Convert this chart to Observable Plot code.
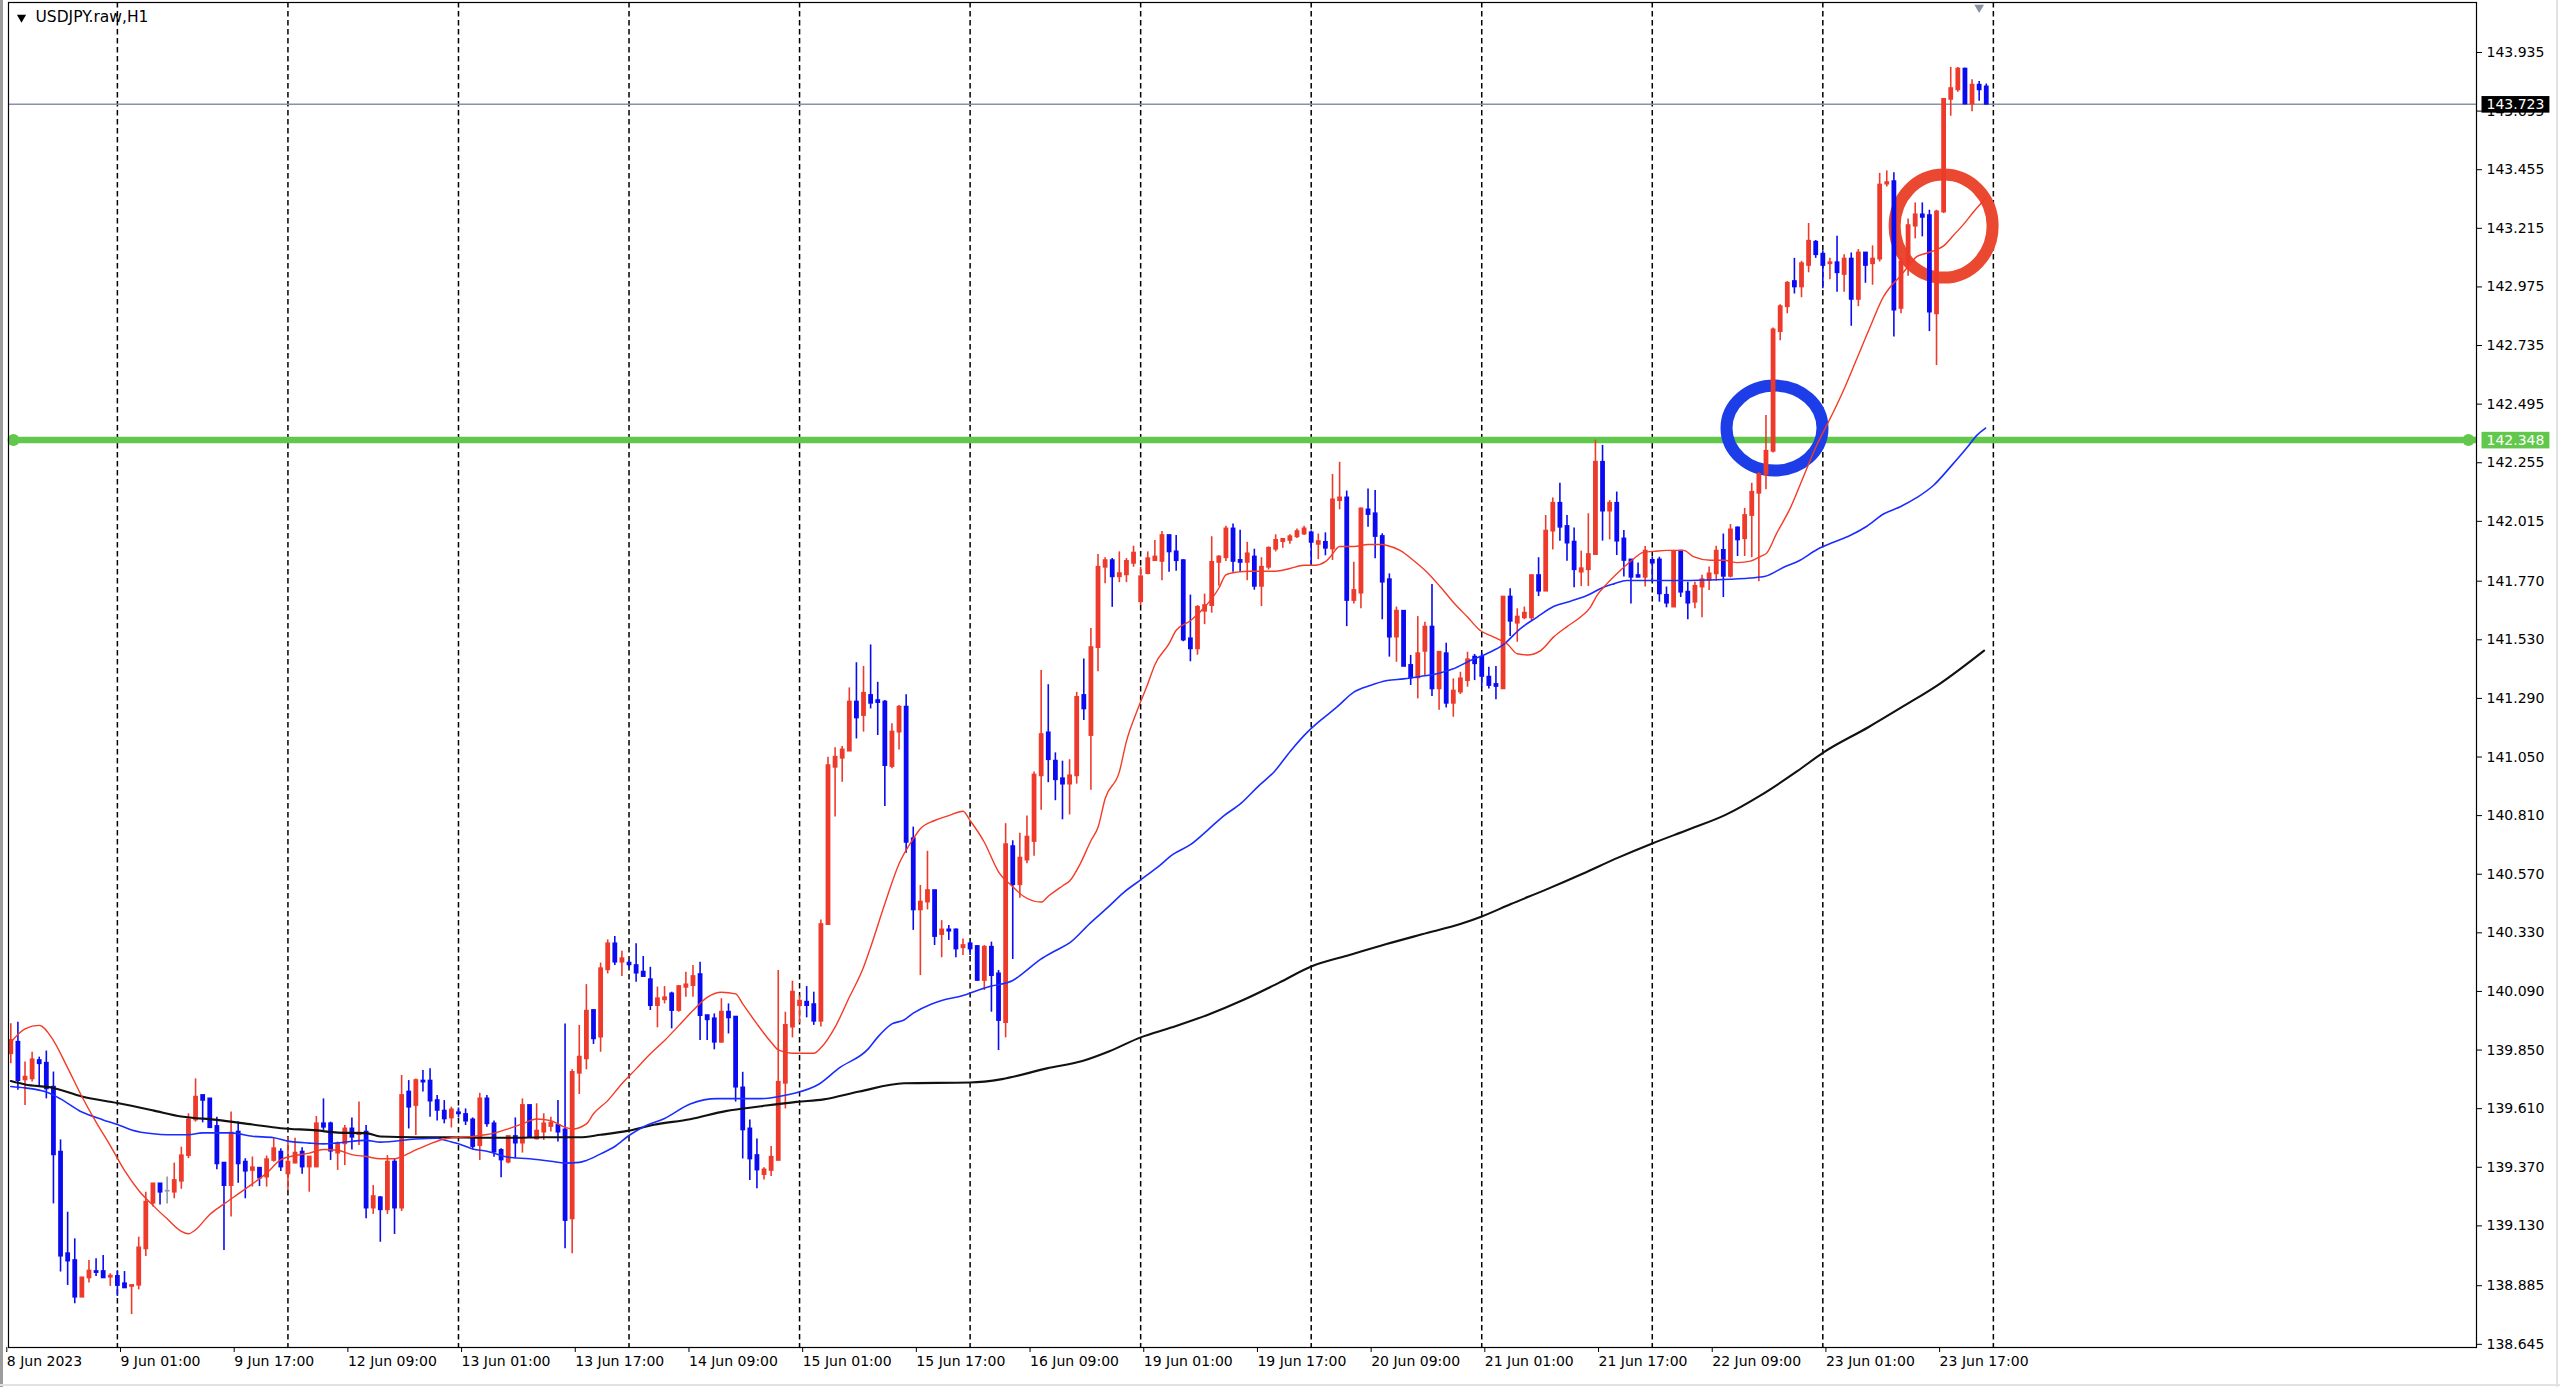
<!DOCTYPE html>
<html><head><meta charset="utf-8">
<script src="https://cdn.jsdelivr.net/npm/d3@7"></script>
<script src="https://cdn.jsdelivr.net/npm/@observablehq/plot@0.6"></script>
<style>
html,body{margin:0;padding:0;background:#fff;}
#wrap{position:relative;width:2560px;height:1387px;overflow:hidden;background:#fff;}
#chart svg{display:block;}
#lb{position:absolute;left:0;top:0;width:3px;height:1387px;background:#9c9c9c;}
#rb{position:absolute;left:2556px;top:0;width:2px;height:1387px;background:#e2e2e2;}
#bb{position:absolute;left:0;top:1384px;width:2560px;height:2px;background:#e2e2e2;}
</style></head>
<body><div id="wrap"><div id="chart"></div><div id="lb"></div><div id="rb"></div><div id="bb"></div></div>
<script>
// ---- data (hourly bars, USDJPY.raw H1, starting 8 Jun 2023 09:00) ----
const symbolTitle = "USDJPY.raw,H1";
const open = [139.835,139.882,139.728,139.732,139.807,139.796,139.698,139.432,139.016,138.988,
138.838,138.917,138.943,138.943,138.920,138.923,138.893,138.882,138.887,139.036,
139.223,139.302,139.272,139.268,139.313,139.418,139.564,139.664,139.650,139.537,
139.387,139.295,139.514,139.391,139.357,139.366,139.330,139.398,139.432,139.343,
139.387,139.432,139.371,139.371,139.548,139.548,139.428,139.466,139.527,139.504,
139.514,139.203,139.245,139.196,139.391,139.203,139.678,139.623,139.723,139.723,
139.643,139.600,139.572,139.593,139.586,139.564,139.459,139.650,139.548,139.439,
139.391,139.496,139.469,139.623,139.486,139.514,139.537,139.541,139.523,139.159,
139.755,139.814,140.012,139.903,140.179,140.285,140.210,140.206,140.196,140.169,
140.138,140.032,140.056,140.080,140.012,140.107,140.114,140.159,139.991,139.978,
139.882,140.005,139.985,139.695,139.527,139.418,139.340,139.357,139.398,139.714,
139.944,140.032,140.046,140.036,139.968,140.364,141.008,141.045,141.074,141.275,
141.220,141.302,141.281,141.275,141.011,141.152,141.254,140.715,140.424,140.456,
140.503,140.323,140.342,140.342,140.269,140.285,140.274,140.135,140.271,140.162,
139.962,140.683,140.527,140.628,140.704,140.973,141.149,141.033,140.961,140.939,
140.973,141.302,141.138,141.498,141.827,141.854,141.788,141.796,141.843,141.686,
141.801,141.854,141.851,141.957,141.890,141.854,141.534,141.493,141.647,141.670,
141.847,141.866,141.984,141.855,141.847,141.869,141.749,141.827,141.901,141.932,
141.937,141.952,141.963,141.968,141.921,141.929,141.902,142.100,142.111,141.691,
141.721,142.062,142.046,141.953,141.776,141.541,141.647,141.425,141.374,141.483,
141.582,141.329,141.473,141.270,141.316,141.363,141.459,141.459,141.377,141.347,
141.329,141.705,141.598,141.620,141.620,141.793,141.729,141.975,142.089,141.994,
141.930,141.807,141.817,141.879,142.257,142.057,142.089,141.943,141.857,141.793,
141.786,141.855,141.857,141.712,141.664,141.893,141.725,141.684,141.746,141.773,
141.800,141.896,141.790,141.988,141.944,142.039,142.130,142.207,142.302,142.792,
142.894,142.997,142.975,143.063,143.158,143.109,143.070,143.074,143.026,143.089,
142.924,143.114,143.070,143.089,143.396,143.406,142.887,143.066,143.224,143.270,
143.267,142.865,143.282,143.743,143.782,143.867,143.724,143.801,143.794];
const high = [139.958,139.964,139.801,139.841,139.821,139.846,139.760,139.482,139.186,139.077,
138.920,138.988,138.995,139.009,138.934,138.947,138.943,138.886,139.084,139.268,
139.302,139.302,139.330,139.387,139.452,139.589,139.732,139.664,139.650,139.575,
139.387,139.596,139.555,139.405,139.412,139.366,139.416,139.487,139.446,139.493,
139.489,139.450,139.412,139.578,139.650,139.555,139.473,139.541,139.572,139.637,
139.541,139.295,139.250,139.418,139.405,139.746,139.725,139.732,139.766,139.773,
139.664,139.643,139.616,139.613,139.609,139.572,139.673,139.664,139.559,139.446,
139.496,139.572,139.650,139.623,139.630,139.589,139.575,139.643,139.957,139.769,
139.951,140.118,140.015,140.206,140.301,140.315,140.255,140.217,140.285,140.233,
140.189,140.108,140.110,140.087,140.114,140.169,140.196,140.210,139.991,139.998,
140.060,140.039,139.985,139.759,139.564,139.486,139.368,139.455,140.176,140.005,
140.132,140.073,140.110,140.087,140.383,141.049,141.088,141.093,141.333,141.436,
141.421,141.509,141.356,141.281,141.186,141.261,141.305,140.763,140.524,140.664,
140.503,140.380,140.360,140.346,140.305,140.292,140.278,140.278,140.292,140.176,
140.777,140.707,140.738,140.808,140.989,141.404,141.346,141.067,141.033,141.039,
141.315,141.451,141.576,141.879,141.866,141.863,141.890,141.863,141.913,141.827,
141.890,141.937,141.973,141.957,141.957,141.858,141.713,141.670,141.717,141.952,
141.874,141.995,142.004,141.979,141.929,141.901,141.866,141.910,141.960,141.945,
141.960,141.984,141.995,141.976,141.963,141.968,142.207,142.257,142.139,141.848,
142.070,142.148,142.141,141.964,141.800,141.664,141.647,141.466,141.625,141.602,
141.756,141.479,141.516,141.370,141.397,141.479,141.470,141.473,141.418,141.421,
141.705,141.739,141.657,141.664,141.793,141.866,142.039,142.111,142.171,142.039,
141.988,141.893,142.046,142.348,142.326,142.100,142.135,141.978,141.857,141.844,
141.912,141.868,141.868,141.746,141.896,141.896,141.766,141.766,141.794,141.828,
141.913,141.963,142.002,141.992,142.068,142.171,142.214,142.448,142.807,142.902,
142.997,143.092,143.080,143.235,143.165,143.121,143.092,143.183,143.107,143.114,
143.128,143.114,143.143,143.440,143.450,143.443,143.092,143.253,143.319,143.319,
143.289,143.289,143.747,143.874,143.874,143.870,143.823,143.816,143.806];
const low = [139.794,139.685,139.623,139.719,139.698,139.650,139.220,138.941,138.886,138.811,
138.838,138.896,138.923,138.917,138.882,138.841,138.875,138.767,138.868,139.005,
139.207,139.216,139.220,139.241,139.280,139.405,139.555,139.552,139.532,139.360,
139.029,139.166,139.305,139.241,139.289,139.291,139.289,139.391,139.353,139.275,
139.384,139.341,139.268,139.371,139.521,139.398,139.357,139.377,139.441,139.459,
139.159,139.177,139.063,139.177,139.095,139.189,139.527,139.500,139.678,139.575,
139.559,139.548,139.531,139.572,139.541,139.441,139.398,139.534,139.411,139.327,
139.384,139.405,139.428,139.493,139.482,139.480,139.514,139.473,139.036,139.016,
139.668,139.769,139.873,139.841,140.162,140.196,140.151,140.187,140.128,140.151,
140.012,139.941,140.039,139.937,140.005,140.066,140.066,139.889,139.889,139.851,
139.878,139.916,139.637,139.404,139.316,139.282,139.318,139.332,139.398,139.609,
139.900,139.960,139.982,139.951,139.944,140.360,140.804,140.947,141.074,141.124,
141.152,141.247,141.138,140.847,141.002,141.079,140.656,140.340,140.155,140.424,
140.278,140.228,140.299,140.228,140.237,140.237,140.132,140.094,140.005,139.848,
139.900,140.221,140.472,140.613,140.644,140.832,140.945,140.871,140.793,140.813,
140.939,141.200,140.914,141.399,141.760,141.663,141.764,141.764,141.827,141.670,
141.796,141.854,141.772,141.807,141.811,141.522,141.440,141.467,141.592,141.639,
141.749,141.851,141.807,141.807,141.772,141.733,141.666,141.816,141.890,141.905,
141.921,141.945,141.957,141.835,141.858,141.874,141.855,142.062,141.584,141.677,
141.657,141.991,141.862,141.612,141.459,141.438,141.421,141.343,141.288,141.384,
141.298,141.241,141.251,141.213,141.306,141.336,141.363,141.336,141.329,141.284,
141.329,141.543,141.520,141.612,141.609,141.707,141.729,141.898,141.934,141.852,
141.743,141.748,141.748,141.879,141.934,141.939,141.875,141.787,141.677,141.784,
141.746,141.766,141.684,141.661,141.664,141.703,141.612,141.657,141.620,141.732,
141.770,141.703,141.783,141.871,141.871,141.866,141.768,142.144,142.295,142.755,
142.865,142.946,142.931,143.033,143.092,142.968,143.004,142.953,142.953,142.814,
142.894,142.990,142.982,143.077,143.384,142.770,142.865,143.019,143.172,143.180,
142.792,142.653,143.275,143.674,143.772,143.721,143.692,143.735,143.721];
const close = [139.889,139.725,139.739,139.810,139.794,139.691,139.421,139.006,138.986,138.838,
138.917,138.945,138.939,138.917,138.924,138.886,138.876,138.886,139.040,139.227,
139.302,139.268,139.272,139.316,139.417,139.564,139.657,139.644,139.532,139.384,
139.295,139.510,139.384,139.354,139.368,139.326,139.401,139.446,139.371,139.391,
139.428,139.371,139.412,139.548,139.534,139.436,139.466,139.527,139.493,139.510,
139.203,139.250,139.196,139.391,139.203,139.664,139.616,139.725,139.719,139.641,
139.603,139.568,139.605,139.589,139.559,139.455,139.650,139.548,139.432,139.400,
139.496,139.469,139.623,139.493,139.518,139.548,139.551,139.514,139.152,139.759,
139.821,140.009,139.896,140.183,140.285,140.210,140.224,140.199,140.165,140.151,
140.032,140.060,140.064,140.012,140.110,140.117,140.151,139.991,139.974,139.882,
140.005,139.982,139.698,139.523,139.404,139.359,139.359,139.411,139.718,139.951,
140.087,140.050,140.032,139.968,140.364,141.015,141.049,141.079,141.275,141.210,
141.311,141.270,141.273,141.015,141.152,141.254,140.701,140.424,140.456,140.503,
140.315,140.342,140.337,140.264,140.278,140.264,140.135,140.271,140.155,139.971,
140.691,140.527,140.636,140.722,140.976,141.142,141.039,140.957,140.939,140.973,
141.294,141.247,141.498,141.827,141.854,141.788,141.801,141.851,141.885,141.788,
141.862,141.869,141.957,141.890,141.854,141.529,141.493,141.663,141.670,141.847,
141.869,141.984,141.851,141.847,141.882,141.749,141.827,141.905,141.937,141.941,
141.952,141.973,141.984,141.929,141.932,141.905,142.103,142.111,141.691,141.732,
142.066,142.043,141.953,141.766,141.541,141.647,141.421,141.374,141.473,141.582,
141.329,141.479,141.270,141.320,141.370,141.448,141.432,141.380,141.343,141.339,
141.705,141.606,141.623,141.639,141.793,141.729,141.975,142.089,141.991,141.926,
141.817,141.821,141.879,142.257,142.057,142.089,141.934,141.855,141.786,141.786,
141.893,141.844,141.718,141.680,141.889,141.725,141.680,141.749,141.776,141.800,
141.893,141.790,141.980,141.939,142.039,142.134,142.207,142.302,142.799,142.894,
142.990,142.975,143.070,143.162,143.107,143.063,143.074,143.033,143.089,142.924,
143.114,143.063,143.089,143.392,143.402,142.880,143.077,143.226,143.270,143.260,
142.872,143.282,143.743,143.787,143.867,143.724,143.801,143.782,143.723];

// moving averages: [bar index, price]
const maFast = [[0,139.882],[2,139.937],[4,139.951],[6,139.889],[8,139.777],[10,139.660],[12,139.555],[14,139.459],[16,139.357],[18,139.275],[20,139.214],[22,139.159],[24,139.108],[25,139.098],[26,139.114],[28,139.177],[30,139.220],[32,139.261],[34,139.302],[36,139.346],[38,139.401],[40,139.418],[42,139.428],[44,139.443],[46,139.440],[48,139.422],[50,139.414],[52,139.405],[54,139.405],[55,139.414],[57,139.441],[59,139.466],[61,139.486],[63,139.493],[65,139.496],[67,139.504],[68,139.510],[70,139.527],[72,139.548],[74,139.568],[76,139.561],[78,139.534],[79,139.527],[81,139.548],[82,139.589],[84,139.643],[86,139.712],[88,139.773],[90,139.835],[92,139.889],[94,139.950],[96,140.012],[98,140.066],[100,140.087],[102,140.080],[103,140.039],[105,139.957],[107,139.882],[108,139.851],[110,139.837],[113,139.837],[114,139.859],[116,139.944],[118,140.066],[120,140.189],[121,140.271],[123,140.449],[125,140.613],[127,140.715],[128,140.756],[130,140.790],[132,140.810],[134,140.828],[135,140.790],[137,140.701],[139,140.580],[141,140.519],[142.5,140.480],[145,140.456],[146,140.480],[148,140.522],[149,140.542],[150.5,140.613],[152,140.707],[153,140.762],[154,140.879],[156,140.989],[157,141.114],[158.5,141.239],[160,141.349],[161,141.428],[163,141.514],[164,141.569],[166,141.608],[168,141.663],[170,141.741],[171,141.796],[172.5,141.807],[174.5,141.811],[176.5,141.811],[178,141.811],[180,141.822],[182,141.835],[183.5,141.835],[185,141.850],[185.7,141.870],[187,141.912],[189,141.912],[191,141.920],[193,141.920],[193.7,141.916],[195.5,141.896],[197.4,141.855],[199.3,141.807],[201.2,141.746],[203,141.684],[205,141.623],[206.8,141.568],[208.7,141.541],[210.6,141.513],[212,141.473],[213.4,141.468],[215.3,141.486],[217.1,141.541],[219,141.584],[220.9,141.623],[222.3,141.664],[223.2,141.711],[224.6,141.759],[226.5,141.814],[228.4,141.862],[229.8,141.889],[231.2,141.892],[233,141.896],[235.4,141.896],[236.8,141.871],[239.2,141.856],[241,141.856],[243,141.846],[244.8,141.852],[246.2,141.871],[247.1,141.885],[248.5,141.966],[250.4,142.068],[252.3,142.200],[254.2,142.331],[256,142.434],[257.9,142.551],[259.8,142.682],[261.7,142.814],[263.6,142.938],[264.5,142.975],[265.9,143.019],[267.3,143.070],[268.2,143.099],[269.7,143.114],[271.1,143.129],[272,143.143],[273.4,143.187],[274.8,143.231],[276.2,143.282],[278,143.340]];
const maMid = [[0,139.701],[2,139.695],[5,139.678],[7,139.650],[10,139.596],[13,139.564],[15,139.545],[17,139.523],[20,139.507],[22,139.503],[25,139.503],[27,139.511],[31,139.511],[34,139.497],[37,139.491],[39,139.477],[42,139.469],[44,139.466],[46,139.470],[50,139.480],[52,139.473],[57,139.486],[60,139.489],[61,139.482],[63,139.466],[65,139.445],[67,139.436],[70,139.411],[73,139.405],[76,139.395],[78,139.387],[80,139.390],[81,139.398],[83,139.425],[85,139.455],[87,139.500],[89,139.535],[92,139.570],[95.6,139.629],[99.4,139.651],[105.6,139.651],[108.1,139.660],[110,139.671],[113.7,139.710],[116.5,139.775],[120.7,139.856],[122,139.903],[124,139.957],[125.7,139.973],[127,140.001],[129.5,140.038],[131,140.053],[134,140.073],[136,140.094],[138,140.112],[141,140.135],[142.5,140.166],[144.9,140.221],[147.2,140.260],[149.1,140.291],[151.9,140.370],[154.3,140.432],[156.6,140.495],[159,140.547],[161.3,140.597],[163.6,140.652],[166,140.691],[168.4,140.750],[170.7,140.809],[173.1,140.860],[175.4,140.926],[177.8,140.990],[180.1,141.075],[182.5,141.153],[184.3,141.200],[186.6,141.254],[189,141.316],[191.3,141.343],[193.7,141.363],[196,141.370],[198.4,141.380],[200.7,141.391],[203,141.411],[205.4,141.445],[207.7,141.473],[210.1,141.511],[212.4,141.575],[214.8,141.623],[217.1,141.666],[219.5,141.688],[221.8,141.711],[224.2,141.746],[225.6,141.759],[227.4,141.773],[229.3,141.773],[231.2,141.773],[235.4,141.773],[240.1,141.776],[244.8,141.783],[246.9,141.790],[249.5,141.827],[251.8,141.856],[254.2,141.900],[256.5,141.929],[258.9,141.958],[261.2,141.995],[263.6,142.046],[265.9,142.075],[268.2,142.112],[270.6,142.163],[272.9,142.236],[275.3,142.317],[276.7,142.368],[277.9,142.397]];
const maSlow = [[0,139.723],[2,139.709],[6,139.695],[10,139.660],[15,139.633],[20,139.603],[24,139.578],[29,139.564],[34,139.545],[38,139.530],[43,139.521],[46,139.512],[50,139.510],[52,139.496],[57,139.493],[62,139.493],[66,139.491],[71,139.491],[75,139.493],[80,139.493],[83,139.503],[86.8,139.519],[90.5,139.544],[95.6,139.567],[100.6,139.600],[105.6,139.620],[110.6,139.638],[114.4,139.648],[119.4,139.680],[125.7,139.714],[135,139.717],[139.5,139.731],[145.8,139.775],[150.8,139.805],[154.6,139.845],[159,139.902],[163.4,139.943],[168.4,139.994],[173.5,140.056],[178.5,140.126],[183,140.192],[188.5,140.240],[193.6,140.284],[198.6,140.324],[204.2,140.368],[207,140.397],[211.1,140.448],[216.2,140.509],[221.2,140.572],[226.2,140.638],[231,140.696],[236.3,140.755],[241.3,140.813],[246.3,140.894],[251.4,140.992],[255.1,141.069],[261.4,141.172],[266.4,141.259],[271.5,141.351],[277.7,141.486]];

const levelPrice = 142.348;   // green horizontal line
const bidPrice = 143.723;     // current bid line
const rings = [{i: 248.2, p: 142.397, color: "#1c3de8"}, {i: 272, p: 143.224, color: "#ea4830"}];

const yTicks = [143.935,143.695,143.455,143.215,142.975,142.735,142.495,142.255,142.015,141.770,141.530,141.290,141.050,140.810,140.570,140.330,140.090,139.850,139.610,139.370,139.130,138.885,138.645];
const xTickLabels = ["8 Jun 2023","9 Jun 01:00","9 Jun 17:00","12 Jun 09:00","13 Jun 01:00","13 Jun 17:00","14 Jun 09:00","15 Jun 01:00","15 Jun 17:00","16 Jun 09:00","19 Jun 01:00","19 Jun 17:00","20 Jun 09:00","21 Jun 01:00","21 Jun 17:00","22 Jun 09:00","23 Jun 01:00","23 Jun 17:00"];
const barsPerLabel = 16;

// ---- derived ----
const bars = open.map((o, i) => ({i, o, h: high[i], l: low[i], c: close[i],
  dir: close[i] > o ? "up" : close[i] < o ? "down" : "flat"}));
const n = bars.length;
// bar times (hourly, weekends skipped) for the day separators
const times = [];
for (let t = Date.UTC(2023, 5, 8, 9); times.length < n + 1; t += 3600000) {
  const wd = new Date(t).getUTCDay();
  if (wd !== 0 && wd !== 6) times.push(new Date(t));
}
const separators = times.map((d, i) => d.getUTCHours() === 0 ? i : null).filter(v => v !== null);
const xTicks = xTickLabels.map((_, k) => k * barsPerLabel);
const xLabel = new Map(xTicks.map((v, k) => [v, xTickLabels[k]]));

const green = "#62c84c";
const font = "'DejaVu Sans', Verdana, sans-serif";

const chart = Plot.plot({
  width: 2560, height: 1387,
  marginLeft: 8, marginRight: 84, marginTop: 2, marginBottom: 40,
  x: {type: "linear", domain: [-0.324, 346.99], axis: null},
  y: {domain: [138.632, 144.1397], axis: null},
  color: {domain: ["up", "down", "flat"], range: ["#ee3a2b", "#0b0bf2", "#8f97a8"]},
  style: {fontFamily: font, fontSize: "14px", background: "white", color: "black", overflow: "visible"},
  marks: [
    Plot.ruleX(separators, {x: d => d, stroke: "#000", strokeWidth: 1.5, strokeDasharray: "5.5,3.5"}),
    Plot.ruleY([bidPrice], {y: d => d, stroke: "#8793a8", strokeWidth: 1.5}),
    Plot.ruleY([levelPrice], {y: d => d, stroke: green, strokeWidth: 6.5}),
    Plot.dot([levelPrice], {y: d => d, frameAnchor: "left", dx: 5, r: 6, fill: green}),
    Plot.dot([levelPrice], {y: d => d, frameAnchor: "right", dx: -8, r: 6, fill: green}),
    Plot.dot([rings[0]], {x: "i", y: "p", r: 48, stroke: rings[0].color, strokeWidth: 12, fill: "none"}),
    Plot.dot([rings[1]], {x: "i", y: "p", r: 49, stroke: rings[1].color, strokeWidth: 12, fill: "none"}),
    Plot.ruleX(bars, {x: "i", y1: "h", y2: "l", stroke: "dir", strokeWidth: 1.6}),
    Plot.ruleX(bars, {x: "i", y1: d => Math.max(d.o, d.c), y2: d => Math.min(d.o, d.c), stroke: "dir",
      strokeWidth: 4.8, insetTop: -0.9, insetBottom: -0.9}),
    Plot.line(maSlow, {x: d => d[0], y: d => d[1], stroke: "#111", strokeWidth: 2.1, curve: "monotone-x"}),
    Plot.line(maMid, {x: d => d[0], y: d => d[1], stroke: "#1a2dff", strokeWidth: 1.6, curve: "monotone-x"}),
    Plot.line(maFast, {x: d => d[0], y: d => d[1], stroke: "#f53a26", strokeWidth: 1.4, curve: "monotone-x"}),
    Plot.frame({stroke: "#000", strokeWidth: 1.2}),
    Plot.axisY(yTicks, {anchor: "right", tickSize: 5, tickPadding: 5, tickFormat: d3.format(".3f"),
      fontSize: 14, label: null, textAnchor: "start"}),
    Plot.axisX(xTicks, {anchor: "bottom", tickSize: 5, tickPadding: 4, tickFormat: i => xLabel.get(i),
      fontSize: 14, label: null, textAnchor: "start", dx: -4}),
    Plot.text([bidPrice], {y: d => d, text: d => d.toFixed(3), frameAnchor: "right", dx: 10,
      textAnchor: "start", fill: "white", fontSize: 14}),
    Plot.text([levelPrice], {y: d => d, text: d => d.toFixed(3), frameAnchor: "right", dx: 10,
      textAnchor: "start", fill: "white", fontSize: 14}),
    Plot.text([symbolTitle], {frameAnchor: "top-left", dx: 27, dy: 15, textAnchor: "start",
      lineAnchor: "middle", fontSize: 15.5, fill: "#000"}),
    Plot.dot([symbolTitle], {frameAnchor: "top-left", dx: 13, dy: 15, symbol: "triangle", rotate: 180, r: 3.4, fill: "#000"}),
    Plot.dot([n - 2], {x: d => d, frameAnchor: "top", dy: 5, symbol: "triangle", rotate: 180, r: 3.6, fill: "#8a91a4"})
  ]
});
document.getElementById("chart").appendChild(chart);

// ---- post: ellipse rings and price label boxes ----
const root = d3.select(chart);
const ringRy = {48: 42.5, 49: 51.5};
root.selectAll("circle").each(function() {
  const r = +this.getAttribute("r");
  if (!(r in ringRy)) return;
  const e = document.createElementNS("http://www.w3.org/2000/svg", "ellipse");
  ["cx", "cy", "transform"].forEach(a => { if (this.getAttribute(a) != null) e.setAttribute(a, this.getAttribute(a)); });
  e.setAttribute("rx", r); e.setAttribute("ry", ringRy[r]);
  this.parentNode.insertBefore(e, this); this.remove();
});
const boxFill = {[bidPrice.toFixed(3)]: "#000", [levelPrice.toFixed(3)]: green};
root.selectAll("text").each(function() {
  const t = this.textContent;
  if (!(t in boxFill)) return;
  const fillAttr = this.getAttribute("fill") || this.parentNode.getAttribute("fill");
  if (fillAttr !== "white") return;
  const b = this.getBBox();
  const rect = document.createElementNS("http://www.w3.org/2000/svg", "rect");
  rect.setAttribute("x", b.x - 5); rect.setAttribute("y", b.y + 0.3);
  rect.setAttribute("width", b.width + 10); rect.setAttribute("height", b.height + 0.6);
  rect.setAttribute("fill", boxFill[t]);
  if (this.getAttribute("transform")) rect.setAttribute("transform", this.getAttribute("transform"));
  this.parentNode.insertBefore(rect, this);
});
</script>
</body></html>
